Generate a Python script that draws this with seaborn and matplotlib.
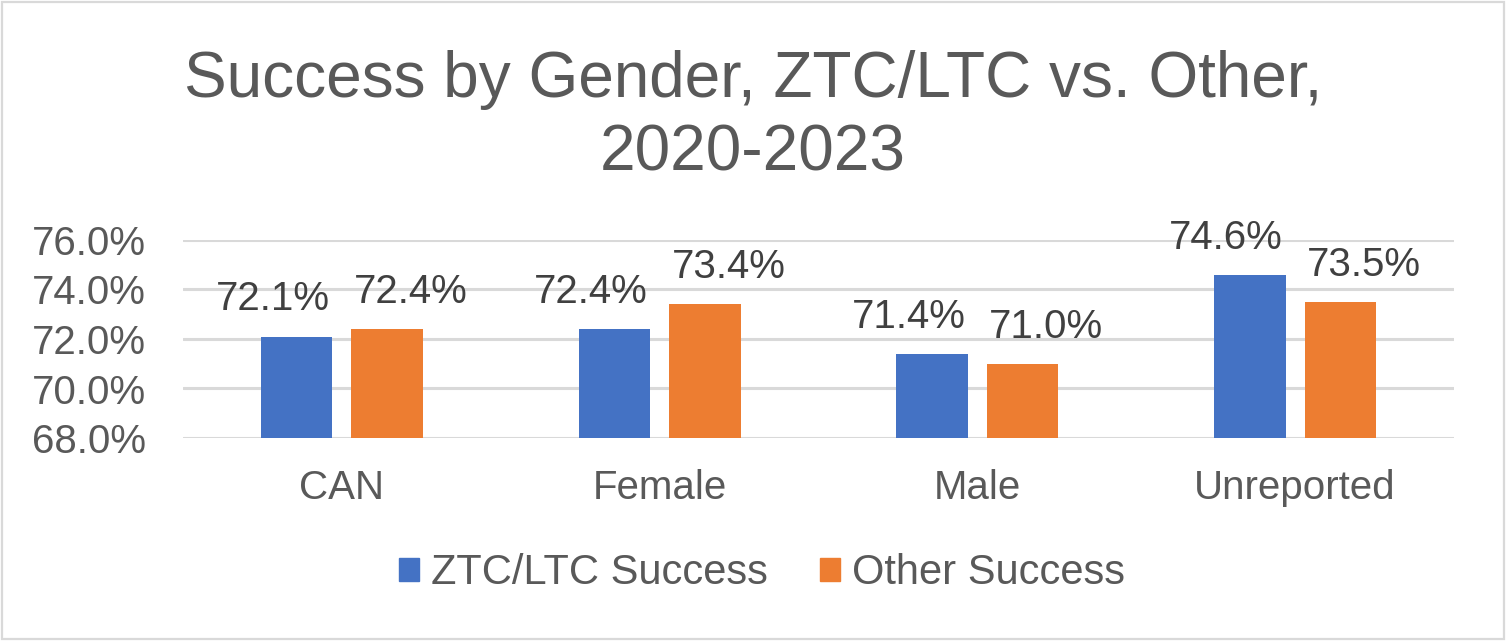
import pandas as pd
import matplotlib
matplotlib.use('Agg')
import matplotlib.pyplot as plt
import matplotlib.patches as patches
import seaborn as sns

categories = ['CAN', 'Female', 'Male', 'Unreported']
ztc_success = [72.1, 72.4, 71.4, 74.6]
other_success = [72.4, 73.4, 71.0, 73.5]
series_names = ['ZTC/LTC Success', 'Other Success']
y_ticks = [68, 70, 72, 74, 76]

df = pd.DataFrame({
    'Category': categories * 2,
    'Series': [series_names[0]] * len(categories) + [series_names[1]] * len(categories),
    'Value': ztc_success + other_success,
})

sns.set_style('white')
plt.rcParams['font.family'] = ['Liberation Sans', 'DejaVu Sans']

fig = plt.figure(figsize=(15.06, 6.41), dpi=100)
ax = fig.add_axes([183/1506, 1-438/641, (1454-183)/1506, (438-240)/641])

palette = {'ZTC/LTC Success': '#4472C4', 'Other Success': '#ED7D31'}
sns.barplot(data=df, x='Category', y='Value', hue='Series', palette=palette,
            width=0.57, gap=0.21, linewidth=0, saturation=1, ax=ax, legend=False)

ax.set_ylim(68, 76)
ax.set_xlim(-0.5, len(categories) - 0.5)
ax.set_yticks(y_ticks)
ax.set_yticklabels([f'{t:.1f}%' for t in y_ticks])
ax.yaxis.grid(True, color='#D9D9D9', linewidth=2.2)
ax.set_axisbelow(True)
for s in ax.spines.values():
    s.set_visible(False)
ax.tick_params(axis='y', length=0, pad=27, labelsize=29, labelcolor='#595959')
ax.tick_params(axis='x', length=0, pad=22, labelsize=29, labelcolor='#595959')
ax.set_xlabel('')
ax.set_ylabel('')

# excel pushes the two labels of a group apart so they don't collide
shifts = [-17, 17]
for cont, dx in zip(ax.containers, shifts):
    labels = ax.bar_label(cont, fmt='%.1f%%', padding=13, fontsize=29, color='#404040')
    for lab in labels:
        lab.xyann = (dx, 13)

fig.suptitle('Success by Gender, ZTC/LTC vs. Other,\n2020-2023', fontsize=46,
             color='#595959', y=1-50/641, va='top', linespacing=1.28)

handles = [patches.Patch(color=palette[n], label=n) for n in series_names]
fig.legend(handles=handles, loc='center', bbox_to_anchor=(0.506, 1-573/641), ncol=2,
           frameon=False, fontsize=30, labelcolor='#595959', handlelength=0.48,
           handleheight=0.48, handletextpad=0.29, columnspacing=1.25)

fig.add_artist(patches.Rectangle((2/1506, 2/641), 1-4/1506, 1-4/641, transform=fig.transFigure,
                                 fill=False, edgecolor='#D9D9D9', linewidth=1.6))

plt.savefig('out.png', dpi=100)
